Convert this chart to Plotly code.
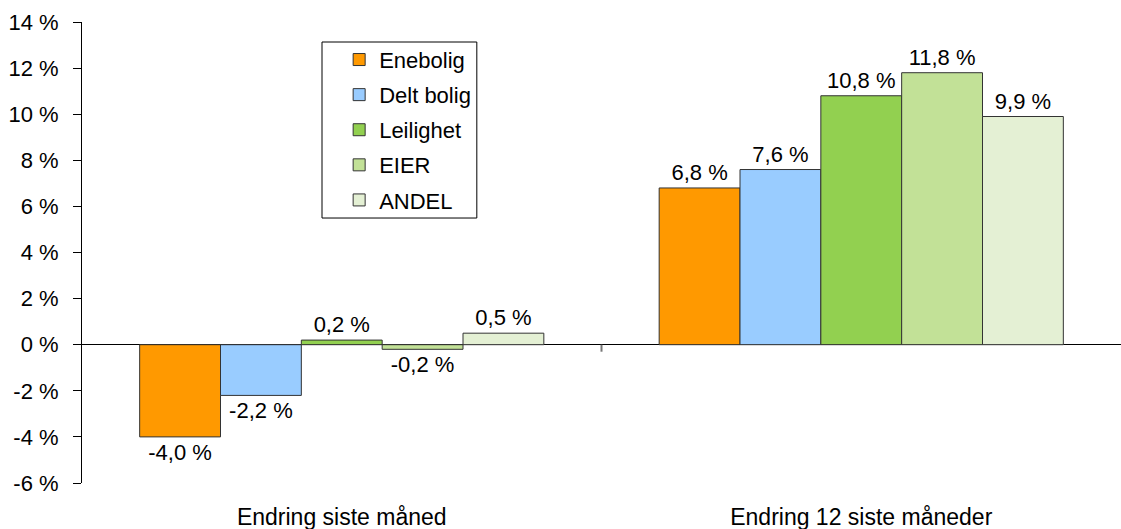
import plotly.graph_objects as go

categories = ["Endring siste måned", "Endring 12 siste måneder"]
series_names = ["Enebolig", "Delt bolig", "Leilighet", "EIER", "ANDEL"]
enebolig = [-4.0, 6.8]
delt_bolig = [-2.2, 7.6]
leilighet = [0.2, 10.8]
eier = [-0.2, 11.8]
andel = [0.5, 9.9]
y_ticks = [-6, -4, -2, 0, 2, 4, 6, 8, 10, 12, 14]
y_tick_labels = [f"{v} %" for v in y_ticks]

series_values = [enebolig, delt_bolig, leilighet, eier, andel]
colors = ["#FF9900", "#99CCFF", "#92D050", "#C2E197", "#E4F0D4"]

FONT = "Liberation Sans, Arial, sans-serif"
FS = 22

fig = go.Figure()
for i, (name, vals, col) in enumerate(zip(series_names, series_values, colors)):
    fig.add_trace(go.Bar(
        name=name, x=categories, y=vals,
        marker=dict(color=col, line=dict(color="#333333", width=1)),
        texttemplate="%{y:.1f} %", textposition="outside",
        textfont=dict(family=FONT, size=FS, color="black"),
        cliponaxis=False, legendgroup=str(i),
    ))

# small category-separator tick below the zero line
fig.add_shape(type="line", xref="x", yref="y", x0=0.5, x1=0.5,
              ysizemode="pixel", yanchor=0, y0=0, y1=-7,
              line=dict(color="#777777", width=2))
# legend frame
fig.add_shape(type="rect", xref="paper", yref="paper",
              x0=0.231, x1=0.380, y0=0.5748, y1=0.9566,
              line=dict(color="black", width=1), fillcolor="white",
              layer="above")

fig.update_layout(
    width=1121, height=529,
    margin=dict(l=82, r=0, t=22, b=46),
    paper_bgcolor="white", plot_bgcolor="white",
    separators=", ",
    barmode="group", bargap=0.222, bargroupgap=0,
    font=dict(family=FONT, size=FS, color="black"),
    legend=dict(
        x=0.2475, y=0.9637, xanchor="left", yanchor="top",
        borderwidth=0, bgcolor="rgba(0,0,0,0)",
        font=dict(family=FONT, size=FS), tracegroupgap=3.5,
        itemwidth=30,
    ),
    uniformtext=dict(minsize=FS, mode="show"),
)
fig.update_xaxes(
    showline=False, showgrid=False, zeroline=False, ticks="",
    tickfont=dict(family=FONT, size=23), ticklabelstandoff=18,
    automargin=False,
)
fig.update_yaxes(
    range=[-6, 14], tickmode="array", tickvals=y_ticks, ticktext=y_tick_labels,
    showline=True, linecolor="black", linewidth=1,
    ticks="outside", ticklen=8, tickcolor="black",
    showgrid=False, zeroline=True, zerolinecolor="black", zerolinewidth=1,
    tickfont=dict(family=FONT, size=FS), ticklabelstandoff=10,
    automargin=False,
)

fig.write_html("out.html")
